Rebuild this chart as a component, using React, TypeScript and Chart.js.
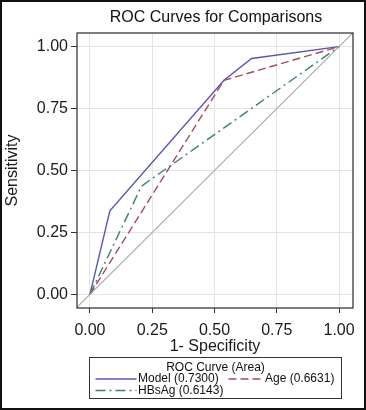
import React, { useEffect, useRef } from 'react';
import { Chart, registerables } from 'chart.js';
Chart.register(...registerables);

const tickValues = [0, 0.25, 0.5, 0.75, 1];
const modelFpr = [0, 0.08, 0.538, 0.649, 1];
const modelTpr = [0, 0.337, 0.864, 0.952, 1];
const ageFpr = [0, 0.538, 1];
const ageTpr = [0, 0.864, 1];
const hbsFpr = [0, 0.207, 1];
const hbsTpr = [0, 0.437, 1];
const refLine = [-0.1, 1.1];
const seriesNames = ['Model (0.7300)', 'Age (0.6631)', 'HBsAg (0.6143)'];
const seriesColors = ['#5a55b2', '#a64b5c', '#3e7f70'];
const chartTitle = 'ROC Curves for Comparisons';
const legendTitle = 'ROC Curve (Area)';

const FONT = '"Liberation Sans", Arial, Helvetica, sans-serif';

const toPts = (xs: number[], ys: number[]) => xs.map((x, i) => ({ x, y: ys[i] }));

const decorPlugin = {
  id: 'decor',
  afterDraw(chart: any) {
    const { ctx, chartArea } = chart;
    const { left, right, top, bottom } = chartArea;
    ctx.save();
    // plot border
    ctx.strokeStyle = '#3a3a3a';
    ctx.lineWidth = 1.3;
    ctx.strokeRect(left, top, right - left, bottom - top);
    // title
    ctx.fillStyle = '#111';
    ctx.font = `16px ${FONT}`;
    ctx.textAlign = 'center';
    ctx.textBaseline = 'middle';
    ctx.fillText(chartTitle, (left + right) / 2 + 1, 18);
    // legend box
    const cx = (left + right) / 2;
    const bw = 252;
    const bx = Math.round(cx - bw / 2) + 0.5;
    const by = 357.5;
    const bh = 41;
    ctx.strokeStyle = '#333';
    ctx.lineWidth = 1;
    ctx.strokeRect(bx, by, bw, bh);
    ctx.font = `12px ${FONT}`;
    ctx.fillStyle = '#111';
    ctx.fillText(legendTitle, bx + bw / 2, by + 10);
    const drawSample = (x0: number, x1: number, y: number, color: string, dash: number[], label: string) => {
      ctx.strokeStyle = color;
      ctx.lineWidth = 1.4;
      ctx.setLineDash(dash);
      ctx.beginPath();
      ctx.moveTo(x0, y);
      ctx.lineTo(x1, y);
      ctx.stroke();
      ctx.setLineDash([]);
      ctx.fillStyle = '#111';
      ctx.textAlign = 'left';
      ctx.fillText(label, x1 + 1.5, y);
    };
    drawSample(bx + 6, bx + 47, by + 21.5, seriesColors[0], [], seriesNames[0]);
    drawSample(bx + 139, bx + 174, by + 21.5, seriesColors[1], [8, 4], seriesNames[1]);
    drawSample(bx + 6, bx + 47, by + 33, seriesColors[2], [10, 4, 2, 4], seriesNames[2]);
    // outer frame
    ctx.strokeStyle = '#111';
    ctx.lineWidth = 2;
    ctx.strokeRect(1, 1, chart.width - 2, chart.height - 2);
    ctx.restore();
  },
};

export default function App() {
  const ref = useRef<HTMLCanvasElement>(null);
  useEffect(() => {
    document.body.style.margin = '0';
    const canvas = ref.current;
    if (!canvas) return;
    const chart = new Chart(canvas, {
      type: 'line',
      data: {
        datasets: [
          {
            label: 'ref',
            data: toPts(refLine, refLine),
            borderColor: '#a8a8a8',
            borderWidth: 1.1,
            pointRadius: 0,
          },
          {
            label: seriesNames[2],
            data: toPts(hbsFpr, hbsTpr),
            borderColor: seriesColors[2],
            borderWidth: 1.4,
            borderDash: [10, 4, 2, 4],
            pointRadius: 0,
          },
          {
            label: seriesNames[1],
            data: toPts(ageFpr, ageTpr),
            borderColor: seriesColors[1],
            borderWidth: 1.4,
            borderDash: [8, 4],
            pointRadius: 0,
          },
          {
            label: seriesNames[0],
            data: toPts(modelFpr, modelTpr),
            borderColor: seriesColors[0],
            borderWidth: 1.4,
            pointRadius: 0,
          },
        ],
      },
      options: {
        animation: false,
        responsive: false,
        devicePixelRatio: 1,
        layout: { padding: { top: 33, right: 13, bottom: 54, left: 0 } },
        plugins: {
          legend: { display: false },
          title: { display: false },
          tooltip: { enabled: false },
        },
        scales: {
          x: {
            type: 'linear',
            min: -0.052,
            max: 1.056,
            afterBuildTicks: (s: any) => {
              s.ticks = tickValues.map((v) => ({ value: v }));
            },
            afterFit: (s: any) => {
              s.height = 48;
            },
            grid: { color: '#e4e4e4', tickColor: '#333', tickLength: 5, drawTicks: true },
            border: { display: false },
            ticks: {
              font: { size: 16, family: FONT },
              color: '#1a1a1a',
              padding: 8,
              maxRotation: 0,
              callback: (v: any) => Number(v).toFixed(2),
            },
            title: {
              display: true,
              text: '1- Specificity',
              font: { size: 16, family: FONT },
              color: '#1a1a1a',
              padding: { top: 0, bottom: 0 },
            },
          },
          y: {
            type: 'linear',
            min: -0.055,
            max: 1.055,
            afterBuildTicks: (s: any) => {
              s.ticks = tickValues.map((v) => ({ value: v }));
            },
            afterFit: (s: any) => {
              s.width = 77;
            },
            grid: { color: '#e4e4e4', tickColor: '#333', tickLength: 6, drawTicks: true },
            border: { display: false },
            ticks: {
              font: { size: 16, family: FONT },
              color: '#1a1a1a',
              padding: 3,
              callback: (v: any) => Number(v).toFixed(2),
            },
            title: {
              display: true,
              text: 'Sensitivity',
              font: { size: 16, family: FONT },
              color: '#1a1a1a',
              padding: { top: 3, bottom: 0 },
            },
          },
        },
      },
      plugins: [decorPlugin],
    } as any);
    return () => chart.destroy();
  }, []);
  return (
    <div style={{ width: 366, height: 410 }}>
      <canvas ref={ref} width={366} height={410} style={{ display: 'block' }} />
    </div>
  );
}
